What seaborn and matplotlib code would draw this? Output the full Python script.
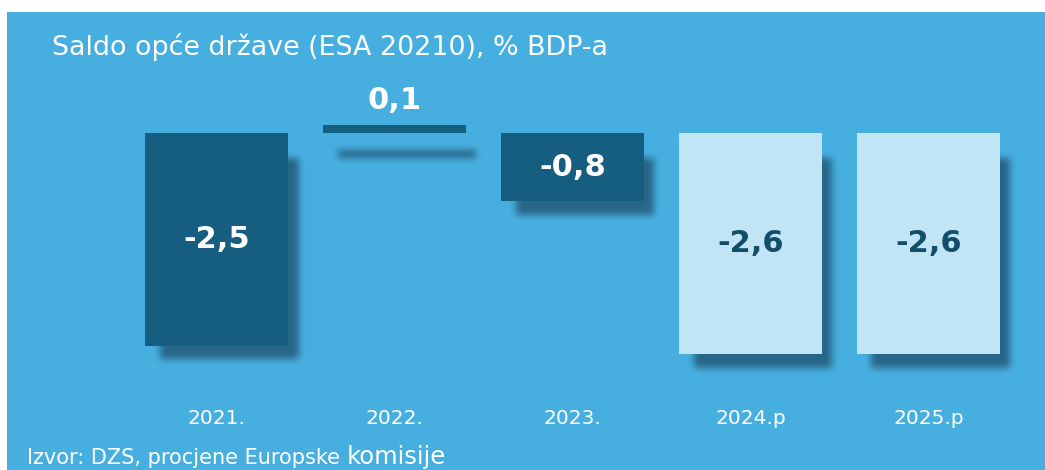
import numpy as np
import pandas as pd
import matplotlib
matplotlib.use("Agg")
import matplotlib.pyplot as plt
from matplotlib.patches import Rectangle
import seaborn as sns

# Data
years = ["2021.", "2022.", "2023.", "2024.p", "2025.p"]
saldo = [-2.5, 0.1, -0.8, -2.6, -2.6]
labels = ["-2,5", "0,1", "-0,8", "-2,6", "-2,6"]
projection = [False, False, False, True, True]

# Colours
bg_blue = "#47AFE0"
dark_bar = "#165E80"
light_bar = "#C2E5F5"
shadow_col = (0.13, 0.33, 0.45)

sns.set_theme(style="white")
plt.rcParams["font.family"] = ["DejaVu Sans"]

W, H = 1045, 470
fig = plt.figure(figsize=(W / 100, H / 100), dpi=100, facecolor="white")

# blue panel (white strip left and top)
fig.patches.append(Rectangle((7 / W, 0), 1 - 7 / W, 1 - 12 / H, transform=fig.transFigure,
                             facecolor=bg_blue, edgecolor="none", zorder=-5))

# axes: zero line at y=133px, 85px per unit, 178px per category
L, R, T, B = 127.5, 1017.5, 80, 380
ax = fig.add_axes([L / W, 1 - B / H, (R - L) / W, (B - T) / H])
ax.set_zorder(2)
ax.patch.set_alpha(0)
ymax = (133 - T) / 85
ymin = -(B - 133) / 85

df = pd.DataFrame({"year": years, "saldo": saldo})
colors = [light_bar if p else dark_bar for p in projection]
sns.barplot(data=df, x="year", y="saldo", hue="year", palette=colors, legend=False,
            width=0.8, saturation=1, linewidth=0, ax=ax, zorder=3)

# soft drop shadow behind bars (blurred raster)
nx, ny = int(R - L), int(B - T)
xs = np.linspace(-0.5, 4.5, nx)
ys = np.linspace(ymax, ymin, ny)
X, Y = np.meshgrid(xs, ys)
mask = np.zeros_like(X)
px_x = 1 / 178.0
px_y = 1 / 85.0
for i, v in enumerate(saldo):
    top = max(v, 0)
    bot = min(v, 0)
    s_top = top - 25 * px_y
    s_bot = min(bot - 14 * px_y, s_top - 8 * px_y)
    x0 = i - 0.4 + 14 * px_x
    x1 = i + 0.4 + 10 * px_x
    mask[(X >= x0) & (X <= x1) & (Y <= s_top) & (Y >= s_bot)] = 1.0


def box_blur(a, r):
    k = np.ones(2 * r + 1) / (2 * r + 1)
    a = np.apply_along_axis(lambda m: np.convolve(m, k, mode="same"), 0, a)
    a = np.apply_along_axis(lambda m: np.convolve(m, k, mode="same"), 1, a)
    return a


mask = box_blur(box_blur(mask, 4), 3)
rgba = np.zeros((ny, nx, 4))
rgba[..., 0], rgba[..., 1], rgba[..., 2] = shadow_col
rgba[..., 3] = np.clip(mask * 0.8, 0, 1)
ax.imshow(rgba, extent=(-0.5, 4.5, ymin, ymax), aspect="auto", zorder=1, interpolation="bilinear")
ax.set_xlim(-0.5, 4.5)
ax.set_ylim(ymin, ymax)

# value labels
for i, (v, lab) in enumerate(zip(saldo, labels)):
    col = "#124E6A" if projection[i] else "white"
    yy = v + 0.28 if v >= 0 else v / 2
    ax.text(i, yy, lab, ha="center", va="center", fontsize=22,
            fontweight="bold", color=col, zorder=5)

for s in ax.spines.values():
    s.set_visible(False)
ax.set_yticks([])
ax.set_xlabel("")
ax.set_ylabel("")
ax.tick_params(axis="x", length=0, pad=21, labelsize=14.5, labelcolor="white")

fig.text(52 / W, 1 - 47 / H, "Saldo opće države (ESA 20210), % BDP-a", fontsize=19.4,
         color="white", ha="left", va="center")

src = fig.text(27 / W, 1 - 464 / H, "Izvor: DZS, procjene Europske ", fontsize=15,
               color="white", ha="left", va="baseline")
fig.canvas.draw()
bb = src.get_window_extent()
fig.text(bb.x1 / W, 1 - 464 / H, "komisije", fontsize=17.5, color="white",
         ha="left", va="baseline")

fig.savefig("out.png", dpi=100, facecolor="white")
